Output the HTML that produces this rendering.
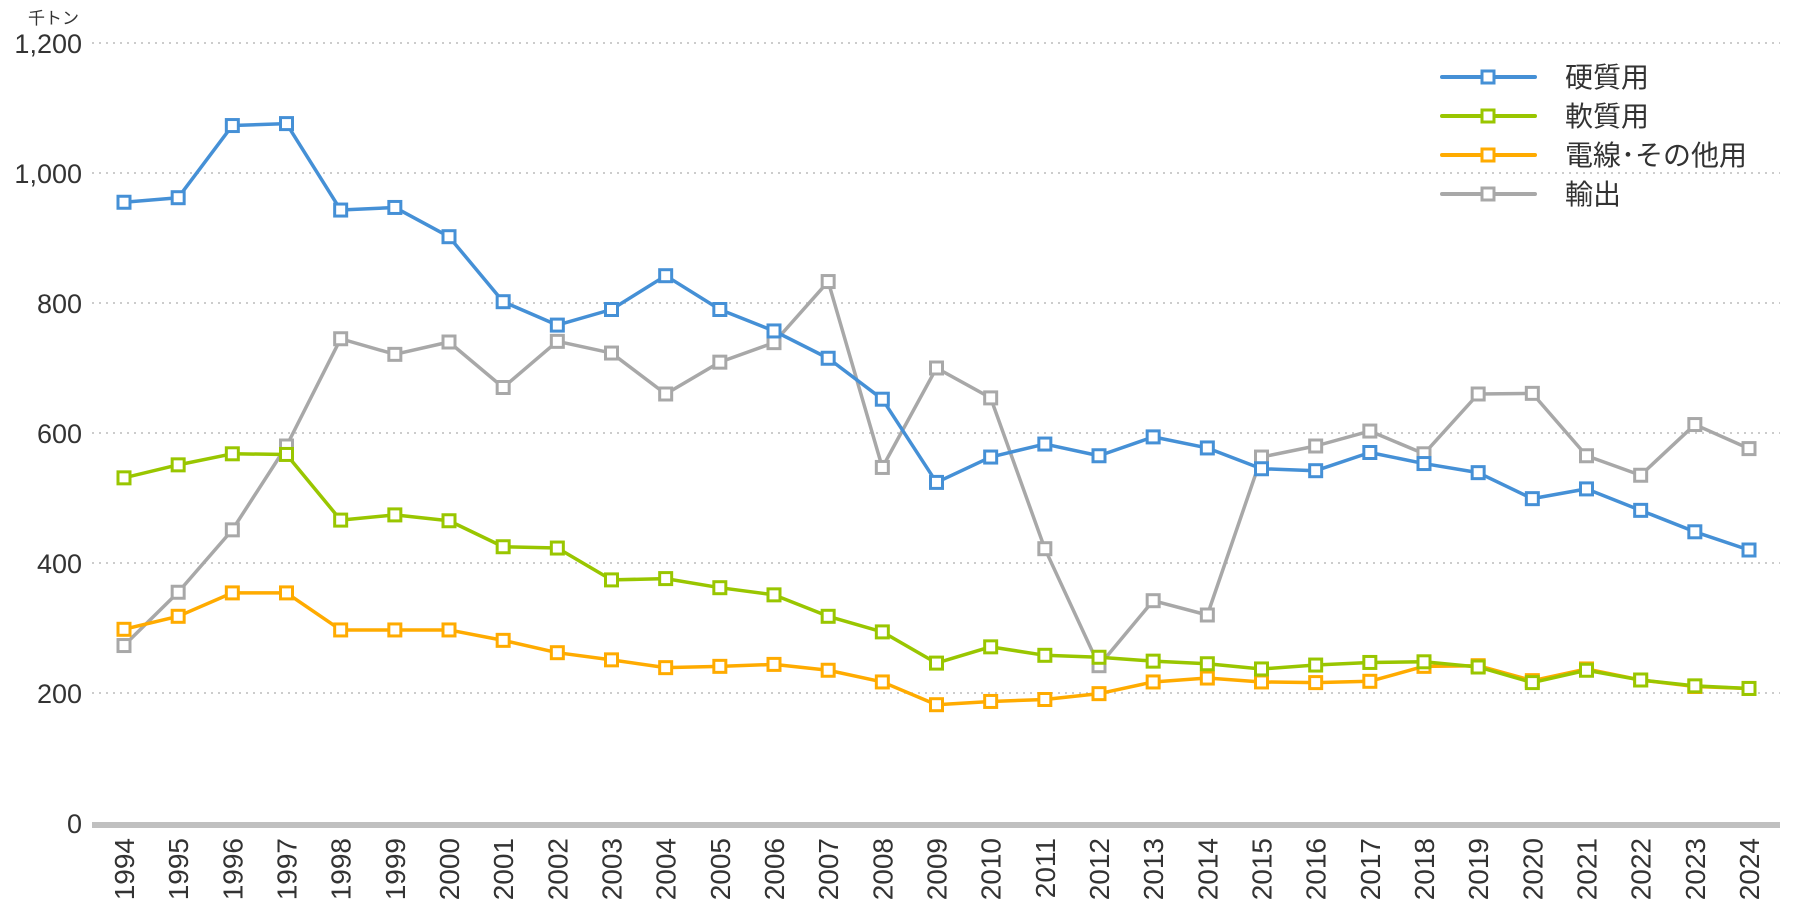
<!DOCTYPE html>
<html><head><meta charset="utf-8"><style>
body{margin:0;background:#fff;}
svg{display:block;font-family:"Liberation Sans","Noto Sans CJK JP",sans-serif;}
</style></head><body>
<svg id="chart" width="1800" height="910" viewBox="0 0 1800 910" xmlns="http://www.w3.org/2000/svg">
<g id="grid"></g>
<g id="yticks"></g>
<g id="xticks"></g>
<g id="series"></g>
<g id="legend"></g>
<text x="28" y="24" font-size="17" fill="#333">千トン</text>
</svg>
<script>
const years=[1994,1995,1996,1997,1998,1999,2000,2001,2002,2003,2004,2005,2006,2007,2008,2009,2010,2011,2012,2013,2014,2015,2016,2017,2018,2019,2020,2021,2022,2023,2024];
const hard=[955,962,1073,1076,943,947,902,802,766,790,842,790,757,715,652,524,563,583,565,594,577,545,542,570,553,539,499,514,481,448,420];
const soft=[531,551,568,567,466,474,465,425,423,374,376,362,351,318,294,246,271,258,255,249,245,237,243,247,248,240,216,235,220,211,207];
const wire=[298,318,354,354,297,297,297,281,262,251,239,241,244,235,217,182,187,190,199,217,223,217,216,218,241,242,219,237,220,210,207];
const exportv=[273,355,451,580,745,721,740,670,741,723,660,709,739,833,547,700,654,422,242,342,320,563,580,603,568,660,661,565,535,613,576];
const yTicks=[0,200,400,600,800,1000,1200];
const names=["硬質用","軟質用","電線･その他用","輸出"];
const NS="http://www.w3.org/2000/svg";
const x=i=>124+i*(1749-124)/30;
const y=v=>823-v*(823-43)/1200;
function mk(tag,attrs,parent){const e=document.createElementNS(NS,tag);for(const k in attrs)e.setAttribute(k,attrs[k]);parent.appendChild(e);return e;}
const grid=document.getElementById('grid'),yt=document.getElementById('yticks'),xt=document.getElementById('xticks'),ser=document.getElementById('series'),leg=document.getElementById('legend');
yTicks.forEach(t=>{
  if(t>0){const l=mk('line',{x1:92,x2:1780,y1:y(t),y2:y(t),stroke:'#bbb','stroke-width':1.5,'stroke-dasharray':'2 5'},grid);
  
  }
  const tx=mk('text',{x:82,y:y(t)+10,'text-anchor':'end','font-size':27,fill:'#333'},yt);
  tx.textContent=t.toLocaleString('en-US');
  
  
});
const ax=mk('line',{x1:92,x2:1780,y1:825,y2:825,stroke:'#c0c0c0','stroke-width':6},grid);


years.forEach((yr,i)=>{
  const tx=mk('text',{x:0,y:0,'text-anchor':'end','font-size':28,fill:'#333',transform:`translate(${x(i)+10},838) rotate(-90)`},xt);
  tx.textContent=yr;
  
  
});
const seriesData=[[hard,'#4590d6'],[soft,'#99c600'],[wire,'#ffab00'],[exportv,'#a8a8a8']];
const order=[3,2,1,0];
order.forEach(si=>{
  const [vals,col]=seriesData[si];
  const g=mk('g',{},ser);
  
  
  const p=mk('polyline',{points:vals.map((v,i)=>x(i)+','+y(v)).join(' '),fill:'none',stroke:col,'stroke-width':3.5,'stroke-linejoin':'round'},g);
  
  
  vals.forEach((v,i)=>{
    const r=mk('rect',{x:x(i)-6,y:y(v)-6,width:12,height:12,fill:'#fff',stroke:col,'stroke-width':3},g);
    
    
  });
});
seriesData.forEach(([vals,col],si)=>{
  const ly=77+si*39;
  const g=mk('g',{},leg);
  
  
  mk('line',{x1:1442,x2:1535,y1:ly,y2:ly,stroke:col,'stroke-width':4,'stroke-linecap':'round'},g);
  mk('rect',{x:1482,y:ly-6,width:12,height:12,fill:'#fff',stroke:col,'stroke-width':3},g);
  const t=mk('text',{x:1565,y:ly+10,'font-size':28,fill:'#333'},g);
  t.textContent=names[si];
});
</script>
</body></html>
